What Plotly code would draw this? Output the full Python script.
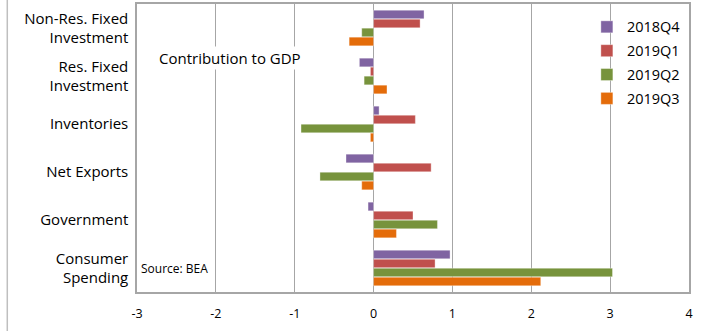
import plotly.graph_objects as go

# GDP components, top to bottom
categories = ["Non-Res. Fixed<br>Investment", "Res. Fixed<br>Investment", "Inventories",
              "Net Exports", "Government", "Consumer<br>Spending"]

q2018_4 = [0.64, -0.18, 0.07, -0.35, -0.07, 0.97]
q2019_1 = [0.59, -0.04, 0.53, 0.73, 0.50, 0.78]
q2019_2 = [-0.15, -0.12, -0.92, -0.68, 0.81, 3.03]
q2019_3 = [-0.31, 0.17, -0.04, -0.15, 0.29, 2.12]

series = [
    ("2018Q4", q2018_4, "#8064A2"),
    ("2019Q1", q2019_1, "#C0504D"),
    ("2019Q2", q2019_2, "#77933C"),
    ("2019Q3", q2019_3, "#E46C0A"),
]

x_ticks = [-3, -2, -1, 0, 1, 2, 3, 4]

FONT = "Open Sans"
GRID = "#A6A6A6"

fig = go.Figure()
for name, vals, color in series:
    fig.add_trace(go.Bar(
        y=categories, x=vals, name=name, orientation="h",
        marker=dict(color=color, line=dict(color="rgba(255,255,255,0.6)", width=0.6)),
        legendgroup=name,
    ))

fig.update_layout(
    width=710, height=331,
    margin=dict(l=137, r=21, t=2, b=39),
    paper_bgcolor="white", plot_bgcolor="white",
    barmode="group", bargap=0.25, bargroupgap=0.04,
    font=dict(family=FONT, color="#000000"),
    legend=dict(
        x=0.815, y=0.976, xanchor="left", yanchor="top",
        font=dict(size=14.5, family=FONT), bgcolor="rgba(0,0,0,0)",
        tracegroupgap=2, itemwidth=30,
    ),
    xaxis=dict(
        range=[-3, 4], tickvals=x_ticks, ticktext=[str(v) for v in x_ticks],
        showgrid=True, gridcolor=GRID, gridwidth=1.2,
        zeroline=True, zerolinecolor=GRID, zerolinewidth=1.2,
        showline=True, linecolor=GRID, linewidth=1.5, mirror=True,
        tickfont=dict(size=12.5, family=FONT), ticks="", ticklen=0,
        ticklabelstandoff=9,
    ),
    yaxis=dict(
        autorange="reversed", showgrid=False,
        showline=True, linecolor=GRID, linewidth=1.5, mirror=True,
        tickfont=dict(size=15, family=FONT), ticks="", ticklabelstandoff=4,
    ),
    annotations=[
        dict(text="Contribution to GDP", x=-1.82, y=0.814, xref="x", yref="paper",
             xanchor="center", yanchor="middle",
             showarrow=False, font=dict(size=15, family=FONT), bgcolor="white"),
        dict(text="Source: BEA", x=-2.97, y=0.083, xref="x", yref="paper",
             xanchor="left", yanchor="middle",
             showarrow=False, font=dict(size=12, family=FONT), bgcolor="white"),
    ],
    shapes=[
        dict(type="line", xref="paper", yref="paper", x0=-0.235, x1=-0.235, y0=-0.2, y1=1.05,
             line=dict(color="#BFBFBF", width=1.5)),
    ],
)

fig.write_html("out.html")
